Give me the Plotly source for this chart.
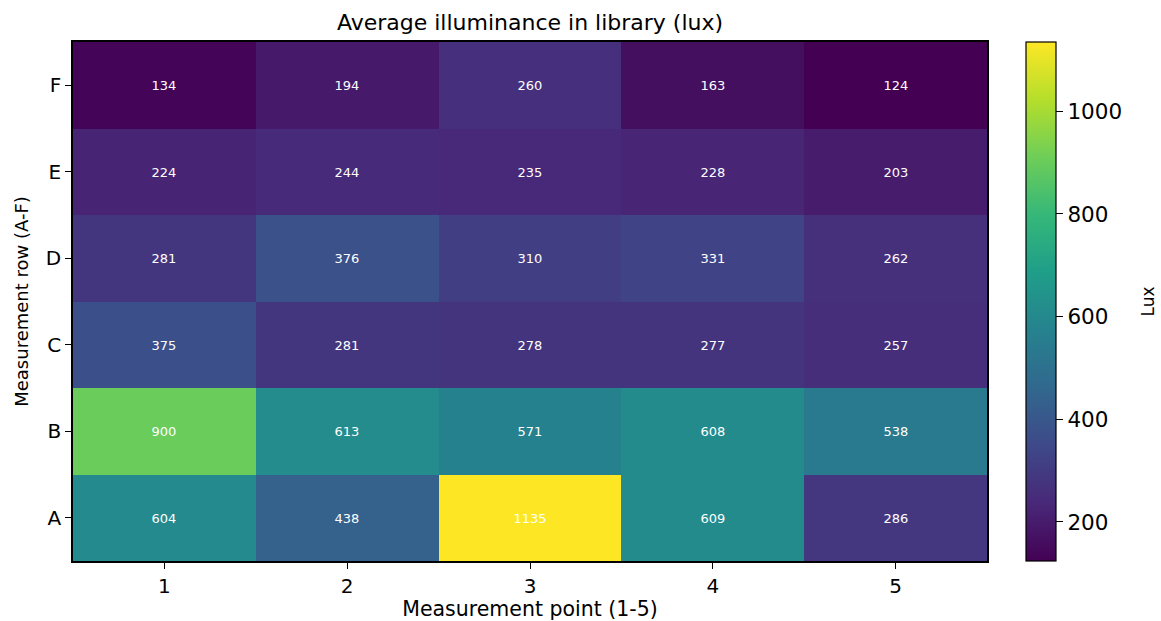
import plotly.graph_objects as go

points = [1, 2, 3, 4, 5]
rows = ["A", "B", "C", "D", "E", "F"]
# values[row][point]
lux_A = [604, 438, 1135, 609, 286]
lux_B = [900, 613, 571, 608, 538]
lux_C = [375, 281, 278, 277, 257]
lux_D = [281, 376, 310, 331, 262]
lux_E = [224, 244, 235, 228, 203]
lux_F = [134, 194, 260, 163, 124]
z = [lux_A, lux_B, lux_C, lux_D, lux_E, lux_F]

font_family = "DejaVu Sans, sans-serif"

fig = go.Figure(go.Heatmap(
    x=points, y=rows, z=z,
    colorscale="Viridis",
    zmin=124, zmax=1135,
    text=[[str(v) for v in r] for r in z],
    texttemplate="%{text}",
    textfont=dict(color="white", size=13, family=font_family),
    xgap=0, ygap=0,
    colorbar=dict(
        x=1.0427, xanchor="left", xref="paper", xpad=0, ypad=0,
        y=0.5, yanchor="middle", len=1.0, lenmode="fraction",
        thickness=30, thicknessmode="pixels",
        outlinewidth=1.2, outlinecolor="black",
        tickvals=[200, 400, 600, 800, 1000],
        ticks="outside", ticklen=7, tickwidth=1, tickcolor="black",
        tickfont=dict(size=21.5, family=font_family, color="black"),
    ),
))

fig.add_annotation(
    text="Lux", x=1.1761, y=0.5, xref="paper", yref="paper",
    textangle=-90, showarrow=False, xanchor="center", yanchor="middle",
    font=dict(size=17, family=font_family, color="black"),
)

fig.update_layout(
    width=1161, height=621,
    margin=dict(l=73, r=174, t=42, b=60),
    plot_bgcolor="white", paper_bgcolor="white",
    font=dict(family=font_family, color="black"),
    title=dict(text="Average illuminance in library (lux)", x=0.5, xref="paper",
               y=1 - 22/621, yanchor="middle", font=dict(size=22, family=font_family)),
    xaxis=dict(
        title=dict(text="Measurement point (1-5)", font=dict(size=20.5), standoff=4),
        tickvals=points, ticks="outside", ticklen=6, tickcolor="black",
        tickfont=dict(size=20), showline=True, linecolor="black", linewidth=1.5,
        mirror=True, showgrid=False, zeroline=False, range=[0.5, 5.5],
        automargin=False,
    ),
    yaxis=dict(
        title=dict(text="Measurement row (A-F)", font=dict(size=18), standoff=13),
        ticks="outside", ticklen=6, tickcolor="black",
        tickfont=dict(size=20), showline=True, linecolor="black", linewidth=1.5,
        mirror=True, showgrid=False, zeroline=False, automargin=False,
    ),
)

fig.write_html(
    "out.html",
    config={"displayModeBar": False},
    post_script="document.body.style.margin='0';document.body.style.overflow='hidden';",
)
